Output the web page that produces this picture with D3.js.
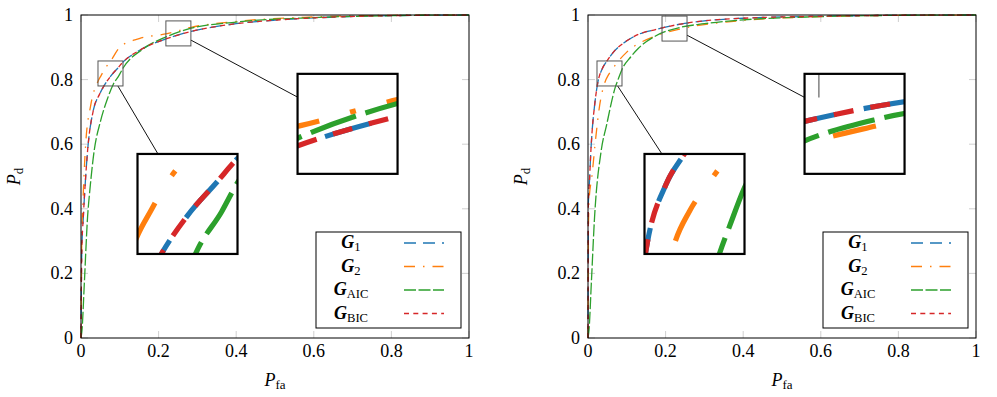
<!DOCTYPE html>
<html lang="en">
<head>
<meta charset="UTF-8">
<title>ROC curves with spy insets</title>
<script src="https://d3js.org/d3.v7.min.js"></script>
<style>
  body { margin: 0; background: #fff; }
</style>
</head>
<body>
<svg id="chart" width="997" height="397" font-family="'Liberation Serif', 'Times New Roman', 'DejaVu Serif', serif"></svg>
<script>
const ticks = [0, 0.2, 0.4, 0.6, 0.8, 1];
const tickLabels = ["0", "0.2", "0.4", "0.6", "0.8", "1"];
const seriesSubs = ["1", "2", "AIC", "BIC"];

// left panel (P_fa, P_d)
const leftPfaG1 = [0, 0.002, 0.006, 0.011, 0.017, 0.032, 0.048, 0.06, 0.076, 0.095, 0.108, 0.15, 0.219, 0.284, 0.4, 0.5, 0.6, 0.8, 1];
const leftPdG1  = [0, 0.27, 0.375, 0.48, 0.58, 0.706, 0.755, 0.782, 0.81, 0.836, 0.854, 0.89, 0.926, 0.949, 0.973, 0.984, 0.991, 0.998, 1];
const leftPfaG2 = [0, 0.002, 0.006, 0.012, 0.025, 0.044, 0.052, 0.063, 0.075, 0.1, 0.15, 0.222, 0.284, 0.4, 0.6, 0.8, 1];
const leftPdG2  = [0, 0.3, 0.45, 0.6, 0.72, 0.795, 0.813, 0.836, 0.855, 0.9, 0.927, 0.942, 0.962, 0.98, 0.994, 0.999, 1];
const leftPfaAIC = [0, 0.0026, 0.0086, 0.017, 0.023, 0.034, 0.05, 0.068, 0.083, 0.098, 0.107, 0.16, 0.219, 0.284, 0.4, 0.6, 0.8, 1];
const leftPdAIC  = [0, 0.025, 0.17, 0.376, 0.46, 0.58, 0.67, 0.74, 0.785, 0.813, 0.833, 0.895, 0.932, 0.959, 0.978, 0.992, 0.998, 1];
const leftPfaBIC = [0, 0.002, 0.006, 0.011, 0.017, 0.032, 0.048, 0.06, 0.076, 0.095, 0.108, 0.15, 0.219, 0.284, 0.4, 0.5, 0.6, 0.8, 1];
const leftPdBIC  = [0, 0.27, 0.375, 0.48, 0.58, 0.706, 0.755, 0.782, 0.81, 0.836, 0.854, 0.89, 0.926, 0.949, 0.973, 0.984, 0.991, 0.998, 1];

// right panel
const rightPfaG1 = [0, 0.001, 0.004, 0.007, 0.01, 0.017, 0.025, 0.037, 0.0485, 0.064, 0.1, 0.134, 0.174, 0.239, 0.3, 0.4, 0.6, 0.8, 1];
const rightPdG1  = [0, 0.42, 0.49, 0.57, 0.63, 0.72, 0.789, 0.834, 0.857, 0.883, 0.92, 0.942, 0.955, 0.972, 0.982, 0.99, 0.996, 0.999, 1];
const rightPfaG2 = [0, 0.001, 0.003, 0.01, 0.02, 0.03, 0.043, 0.052, 0.065, 0.076, 0.1, 0.174, 0.239, 0.39, 0.6, 0.8, 1];
const rightPdG2  = [0, 0.33, 0.43, 0.5, 0.62, 0.72, 0.79, 0.813, 0.836, 0.854, 0.885, 0.935, 0.957, 0.982, 0.995, 0.999, 1];
const rightPfaAIC = [0, 0.0026, 0.0086, 0.017, 0.034, 0.048, 0.07, 0.079, 0.087, 0.11, 0.13, 0.174, 0.239, 0.3, 0.4, 0.6, 0.8, 1];
const rightPdAIC  = [0, 0.025, 0.17, 0.376, 0.58, 0.66, 0.775, 0.805, 0.83, 0.87, 0.897, 0.935, 0.962, 0.973, 0.985, 0.995, 0.999, 1];
const rightPfaBIC = [0, 0.001, 0.004, 0.007, 0.01, 0.017, 0.025, 0.037, 0.0485, 0.064, 0.1, 0.134, 0.174, 0.239, 0.3, 0.4, 0.6, 0.8, 1];
const rightPdBIC  = [0, 0.42, 0.49, 0.57, 0.63, 0.72, 0.789, 0.834, 0.857, 0.883, 0.92, 0.942, 0.955, 0.972, 0.982, 0.99, 0.996, 0.999, 1];

// zoomed spots [pfa, pd] and where their insets go [pfa, pd]
const leftSpots = [[0.076, 0.819], [0.251, 0.943]];
const rightSpots = [[0.0554, 0.819], [0.223, 0.958]];
const insetSpots = [[0.2745, 0.415], [0.687, 0.663]];

const colors = ["#1f77b4", "#ff7f0e", "#2ca02c", "#d62728"];
const dashes = ["12,7", "11,8,1.5,8", "12,2.5", "5,4.3"];
const lineW = 1.3;

const svg = d3.select("#chart");
const defs = svg.append("defs");

const panels = [
  { x0: 81, series: [[leftPfaG1, leftPdG1], [leftPfaG2, leftPdG2], [leftPfaAIC, leftPdAIC], [leftPfaBIC, leftPdBIC]], spots: leftSpots },
  { x0: 588, series: [[rightPfaG1, rightPdG1], [rightPfaG2, rightPdG2], [rightPfaAIC, rightPdAIC], [rightPfaBIC, rightPdBIC]], spots: rightSpots }
];

function drawContent(g, x, y, series) {
  const tl = 7;
  ticks.forEach(t => {
    const tg = g.append("g").attr("stroke", "#888").attr("stroke-width", 0.4);
    tg.append("line").attr("x1", x(t)).attr("x2", x(t)).attr("y1", y(0)).attr("y2", y(0) - tl);
    tg.append("line").attr("x1", x(t)).attr("x2", x(t)).attr("y1", y(1)).attr("y2", y(1) + tl);
    tg.append("line").attr("x1", x(0)).attr("x2", x(0) + tl).attr("y1", y(t)).attr("y2", y(t));
    tg.append("line").attr("x1", x(1)).attr("x2", x(1) - tl).attr("y1", y(t)).attr("y2", y(t));
  });
  const line = d3.line().x(d => x(d[0])).y(d => y(d[1])).curve(d3.curveMonotoneX);
  series.forEach((s, i) => {
    g.append("path")
      .datum(d3.zip(s[0], s[1]))
      .attr("d", line)
      .attr("fill", "none")
      .attr("stroke", colors[i])
      .attr("stroke-width", lineW)
      .attr("stroke-dasharray", dashes[i]);
  });
  g.append("rect")
    .attr("x", x(0)).attr("y", y(1))
    .attr("width", x(1) - x(0)).attr("height", y(0) - y(1))
    .attr("fill", "none").attr("stroke", "#000").attr("stroke-width", 1);
}

function gSymbol(text, sub, size) {
  text.append("tspan").attr("font-weight", "bold").attr("font-style", "italic")
    .attr("font-size", size).text("G");
  text.append("tspan").attr("font-size", size * 0.7).attr("dy", 3).text(sub);
}

panels.forEach((p, pi) => {
  const x = d3.scaleLinear().domain([0, 1]).range([p.x0, p.x0 + 388]);
  const y = d3.scaleLinear().domain([0, 1]).range([338, 15]);
  const g = svg.append("g");

  drawContent(g, x, y, p.series);

  // tick labels
  ticks.forEach((t, i) => {
    g.append("text").attr("x", p.x0 - 8).attr("y", y(t) + 6)
      .attr("text-anchor", "end").attr("font-size", 18).text(tickLabels[i]);
    g.append("text").attr("x", x(t)).attr("y", 357)
      .attr("text-anchor", "middle").attr("font-size", 18).text(tickLabels[i]);
  });

  // axis titles
  const xt = g.append("text").attr("x", x(0.5)).attr("y", 386).attr("text-anchor", "middle");
  xt.append("tspan").attr("font-style", "italic").attr("font-size", 18).text("P");
  xt.append("tspan").attr("font-size", 13).attr("dy", 3).text("fa");
  const yt = g.append("text").attr("transform", `translate(${p.x0 - 61},${y(0.5)}) rotate(-90)`)
    .attr("text-anchor", "middle");
  yt.append("tspan").attr("font-style", "italic").attr("font-size", 18).text("P");
  yt.append("tspan").attr("font-size", 13).attr("dy", 3).text("d");

  // legend
  const lg = g.append("g").attr("transform", `translate(${p.x0 + 235},232)`);
  lg.append("rect").attr("width", 145).attr("height", 96)
    .attr("fill", "#fff").attr("stroke", "#000").attr("stroke-width", 1);
  seriesSubs.forEach((s, i) => {
    const by = 16 + i * 23.5;
    gSymbol(lg.append("text").attr("x", 35).attr("y", by).attr("text-anchor", "middle"), s, 18);
    lg.append("line").attr("x1", 88).attr("x2", 128).attr("y1", by - 5).attr("y2", by - 5)
      .attr("stroke", colors[i]).attr("stroke-width", lineW + 0.3)
      .attr("stroke-dasharray", dashes[i]);
  });

  // spy boxes and magnified insets
  const half = 12.5, big = 50, mag = big / half;
  p.spots.forEach((sp, si) => {
    const c1 = [x(sp[0]), y(sp[1])];
    const c2 = [x(insetSpots[si][0]), y(insetSpots[si][1])];
    const dx = c2[0] - c1[0], dy = c2[1] - c1[1];
    const m = Math.max(Math.abs(dx), Math.abs(dy));
    const s1 = half / m, s2 = 1 - big / m;
    svg.append("line")
      .attr("x1", c1[0] + s1 * dx).attr("y1", c1[1] + s1 * dy)
      .attr("x2", c1[0] + s2 * dx).attr("y2", c1[1] + s2 * dy)
      .attr("stroke", "#111").attr("stroke-width", 1);
    svg.append("rect")
      .attr("x", c1[0] - half).attr("y", c1[1] - half)
      .attr("width", 2 * half).attr("height", 2 * half)
      .attr("fill", "none").attr("stroke", "#555").attr("stroke-width", 1);

    const id = `clip${pi}${si}`;
    defs.append("clipPath").attr("id", id).append("rect")
      .attr("x", c2[0] - big).attr("y", c2[1] - big)
      .attr("width", 2 * big).attr("height", 2 * big);
    const ig = svg.append("g").attr("clip-path", `url(#${id})`);
    ig.append("rect").attr("x", c2[0] - big).attr("y", c2[1] - big)
      .attr("width", 2 * big).attr("height", 2 * big).attr("fill", "#fff");
    const zg = ig.append("g")
      .attr("transform", `translate(${c2[0]},${c2[1]}) scale(${mag}) translate(${-c1[0]},${-c1[1]})`);
    drawContent(zg, x, y, p.series);
    svg.append("rect").attr("x", c2[0] - big).attr("y", c2[1] - big)
      .attr("width", 2 * big).attr("height", 2 * big)
      .attr("fill", "none").attr("stroke", "#000").attr("stroke-width", 2.2);
  });
});
</script>
</body>
</html>
